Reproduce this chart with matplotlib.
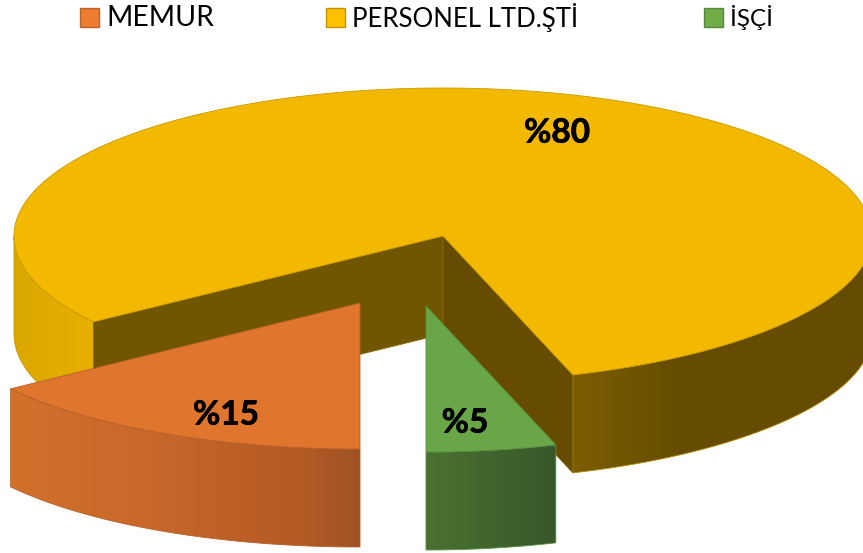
import numpy as np
import matplotlib.pyplot as plt
import matplotlib.patheffects as pe
from matplotlib.colors import to_rgb
from matplotlib.patches import Rectangle, Polygon

plt.rcParams['font.family'] = ['Lato', 'DejaVu Sans']

labels = ["MEMUR", "PERSONEL LTD.ŞTİ", "İŞÇİ"]
shares = [15, 80, 5]
data_labels = ["%15", "%80", "%5"]

legend_colors = ["#ed7d31", "#ffc000", "#70ad47"]
legend_edges = ["#b9622a", "#c09400", "#568a38"]
top_colors = ["#e0752d", "#f3b800", "#69a647"]
edge_colors = ["#b8602a", "#c99a00", "#5a9040"]

# pie geometry in image pixels
rx, ry_back, ry_front, depth = 429, 148, 146, 98
start = 90
centers = [(360, 303), (443, 236), (426, 306)]
label_pos = [(226, 415), (557, 133), (465, 423)]
legend_x = [80, 326, 704]
legend_text_x = [106, 352, 730]
legend_sizes = [20.4, 18.5, 17.5]


def rim(cx, cy, a0, a1, n=200):
    t = np.radians(np.linspace(a0, a1, n))
    c, s = np.cos(t), np.sin(t)
    # front half is slightly off a true ellipse (3d perspective of the original)
    front = s > 0
    squeeze = np.where(front & (c > 0), 1 - 0.023 * s ** 2, 1.0)
    squeeze = np.where(front & (c < 0), 1 + 0.02 * s ** 2, squeeze)
    return cx + rx * c * squeeze, cy + np.where(front, ry_front, ry_back) * s


def side(cx, cy, a0, a1, xs, cols, edge, zorder):
    # gradient side wall: horizontal gradient image clipped to the wall shape
    x, y = rim(cx, cy, a0, a1, 300)
    px = np.r_[x, x[::-1]]
    py = np.r_[y, y[::-1] + depth]
    grid = np.linspace(px.min(), px.max(), 400)
    cols = np.array([to_rgb(c) for c in cols])
    img = np.stack([np.interp(grid, xs, cols[:, k]) for k in range(3)], axis=1)[None, :, :]
    im = ax.imshow(img, extent=(px.min(), px.max(), py.max(), py.min()), aspect="auto",
                   interpolation="bilinear", zorder=zorder)
    poly = Polygon(np.c_[px, py], closed=True, facecolor="none", edgecolor=edge, lw=0.6, zorder=zorder)
    ax.add_patch(poly)
    im.set_clip_path(poly)


def wall(p, q, color):
    ax.fill([p[0], q[0], q[0], p[0]], [p[1], q[1], q[1] + depth, p[1] + depth],
            facecolor=color, edgecolor="#8a6a00", lw=0.6, zorder=1)


fig = plt.figure(figsize=(8.63, 5.53), dpi=100)
ax = fig.add_axes([0, 0, 1, 1])

angles = start + np.cumsum([0] + [s * 3.6 for s in shares])

# yellow slice
a0, a1 = angles[1], angles[2]
cx, cy = centers[1]
side(cx, cy, a0, 180, [14, 94], ["#dba800", "#e8b000"], "#c99a00", 1)
side(cx, cy, 360, a1, [573, 680], ["#7c5d00", "#654c00"], "#b08a00", 1)
x, y = rim(cx, cy, a0, a1, 400)
wall((cx, cy), (x[0], y[0]), "#705600")
wall((cx, cy), (x[-1], y[-1]), "#654c00")
ax.fill(np.r_[cx, x], np.r_[cy, y], facecolor=top_colors[1], edgecolor=edge_colors[1], lw=0.6, zorder=2)

# orange slice
a0, a1 = angles[0], angles[1]
cx, cy = centers[0]
side(cx, cy, a0, a1, [10, 150, 300, 360], ["#d3702c", "#c7682a", "#b45a25", "#a05222"], "#b8602a", 3)
x, y = rim(cx, cy, a0, a1)
ax.fill(np.r_[cx, x], np.r_[cy, y], facecolor=top_colors[0], edgecolor=edge_colors[0], lw=0.6, zorder=4)

# green slice
a0, a1 = angles[2], angles[3]
cx, cy = centers[2]
side(cx, cy, a0, a1, [426, 555], ["#4a7231", "#37582a"], "#5a9040", 3)
x, y = rim(cx, cy, a0, a1)
ax.fill(np.r_[cx, x], np.r_[cy, y], facecolor=top_colors[2], edgecolor=edge_colors[2], lw=0.6, zorder=4)

for lab, (tx, ty) in zip(data_labels, label_pos):
    ax.text(tx, ty, lab, fontsize=24, fontweight="bold", color="black", ha="center", va="center", zorder=6,
            path_effects=[pe.withStroke(linewidth=0.5, foreground="black")])

# legend
for i in range(3):
    ax.add_patch(Rectangle((legend_x[i], 8), 19, 19, facecolor=legend_colors[i],
                           edgecolor=legend_edges[i], lw=1, zorder=6))
    ax.text(legend_text_x[i], 18, labels[i], fontsize=legend_sizes[i], color="black", ha="left", va="center", zorder=6)

ax.set_xlim(0, 863)
ax.set_ylim(553, 0)
ax.axis("off")

fig.savefig("out.png", dpi=100)
